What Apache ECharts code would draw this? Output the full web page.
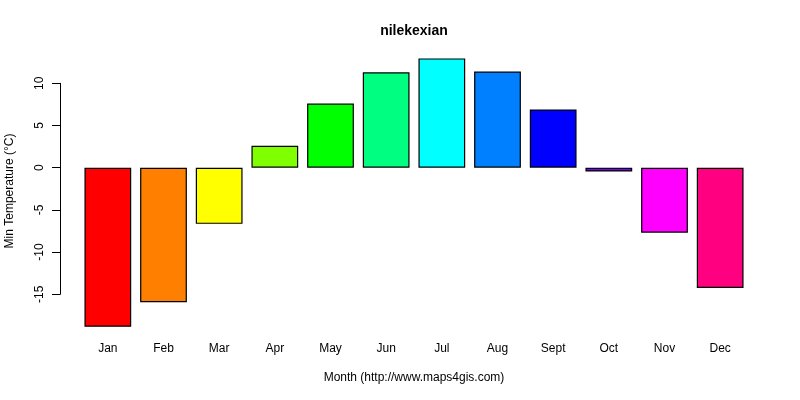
<!DOCTYPE html>
<html>
<head>
<meta charset="utf-8">
<script src="https://cdn.jsdelivr.net/npm/echarts@6/dist/echarts.min.js"></script>
<style>
  html, body { margin: 0; padding: 0; background: #fff; }
  #chart { width: 800px; height: 400px; }
</style>
</head>
<body>
<div id="chart"></div>
<script>
const months = ["Jan", "Feb", "Mar", "Apr", "May", "Jun", "Jul", "Aug", "Sept", "Oct", "Nov", "Dec"]
const minTemp = [-18.85, -15.95, -6.65, 2.6, 7.6, 11.3, 12.95, 11.4, 6.9, -0.45, -7.7, -14.25]
const barColors = [
    "#FF0000", "#FF8000", "#FFFF00", "#80FF00", "#00FF00", "#00FF80",
    "#00FFFF", "#0080FF", "#0000FF", "#8000FF", "#FF00FF", "#FF0080"
]
const yTicks = [-15, -10, -5, 0, 5, 10]

var myChart = echarts.init(document.getElementById('chart'));
var font = 'Liberation Sans, Arial, sans-serif';

var option = {
    animation: false,
    backgroundColor: '#fff',
    grid: { left: 80, right: 52, top: 83.3, bottom: 105.7 },
    graphic: [
        { type: 'text', x: 414, y: 31, silent: true,
          style: { text: 'nilekexian', font: 'bold 14px ' + font, fill: '#000',
                   textAlign: 'center', textVerticalAlign: 'middle' } },
        { type: 'text', x: 414, y: 378, silent: true,
          style: { text: 'Month (http://www.maps4gis.com)', font: '12px ' + font, fill: '#000',
                   textAlign: 'center', textVerticalAlign: 'middle' } },
        { type: 'text', x: 10, y: 191, rotation: Math.PI / 2, silent: true,
          style: { text: 'Min Temperature (°C)', font: '12px ' + font, fill: '#000',
                   textAlign: 'center', textVerticalAlign: 'middle' } }
    ],
    xAxis: {
        type: 'category',
        data: months,
        axisLine: { show: false },
        axisTick: { show: false },
        axisLabel: { margin: 48, fontSize: 12, fontFamily: font, color: '#000' },
        splitLine: { show: false }
    },
    yAxis: {
        type: 'value',
        min: -15,
        max: 10,
        interval: 5,
        offset: 20,
        axisLine: { show: true, lineStyle: { color: '#000', width: 1 } },
        axisTick: { show: true, length: 8, lineStyle: { color: '#000' } },
        axisLabel: { rotate: 90, margin: 14, fontSize: 12, fontFamily: font, color: '#000',
                     formatter: function (v) { return yTicks.indexOf(v) >= 0 ? String(v) : ''; } },
        splitLine: { show: false }
    },
    series: [{
        type: 'bar',
        clip: false,
        barCategoryGap: '16%',
        data: minTemp.map(function (v, i) {
            return { value: v, itemStyle: { color: barColors[i] } };
        }),
        itemStyle: { borderColor: '#000', borderWidth: 1.2 }
    }]
};
myChart.setOption(option);
</script>
</body>
</html>
